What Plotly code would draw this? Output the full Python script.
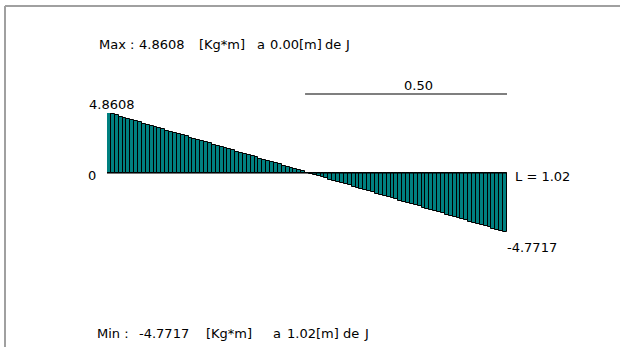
import plotly.graph_objects as go

# Data: bending moment along the beam (0.00 .. 1.02 m)
positions = [round(i * 0.01, 2) for i in range(103)]
moments = [
    4.8608, 4.7664, 4.6719, 4.5775, 4.4831, 4.3886, 4.2942, 4.1998, 4.1053, 4.0109,
    3.9164, 3.8220, 3.7276, 3.6331, 3.5387, 3.4443, 3.3498, 3.2554, 3.1610, 3.0665,
    2.9721, 2.8776, 2.7832, 2.6888, 2.5943, 2.4999, 2.4055, 2.3110, 2.2166, 2.1221,
    2.0277, 1.9333, 1.8388, 1.7444, 1.6500, 1.5555, 1.4611, 1.3667, 1.2722, 1.1778,
    1.0833, 0.9889, 0.8945, 0.8000, 0.7056, 0.6112, 0.5167, 0.4223, 0.3279, 0.2334,
    0.1390, 0.0445, -0.0499, -0.1443, -0.2388, -0.3332, -0.4276, -0.5221, -0.6165, -0.7110,
    -0.8054, -0.8998, -0.9943, -1.0887, -1.1831, -1.2776, -1.3720, -1.4664, -1.5609, -1.6553,
    -1.7497, -1.8442, -1.9386, -2.0331, -2.1275, -2.2219, -2.3164, -2.4108, -2.5052, -2.5997,
    -2.6941, -2.7885, -2.8830, -2.9774, -3.0719, -3.1663, -3.2607, -3.3552, -3.4496, -3.5440,
    -3.6385, -3.7329, -3.8274, -3.9218, -4.0162, -4.1107, -4.2051, -4.2995, -4.3940, -4.4884,
    -4.5828, -4.6773, -4.7717,
]
max_val = 4.8608
min_val = -4.7717
beam_length = 1.02
scale_label = "0.50"
title_black = "Momentos "
title_blue = "[Kg*m], Long [m]"
max_pieces = ["Max :", "4.8608", "[Kg*m]", "a", "0.00[m]", "de", "J"]
min_pieces = ["Min :", "-4.7717", "[Kg*m]", "a", "1.02[m]", "de", "J"]

W, H = 620, 347
L_PX, R_PX = 107, 507
T_PX, B_PX = 113, 232


def px(x):
    return (x - L_PX) / (R_PX - L_PX)


def py(y):
    return (B_PX - y) / (B_PX - T_PX)


FONT = "DejaVu Sans"
FS = 13

fig = go.Figure()
fig.add_trace(go.Bar(
    x=positions, y=moments, width=0.01,
    marker=dict(color="#008080", line=dict(color="#000000", width=1)),
    hoverinfo="skip",
))

shapes = [
    # frame (gray, 3D-like)
    dict(type="line", xref="paper", yref="paper", x0=px(5), x1=px(5), y0=py(6), y1=py(360),
         line=dict(color="#a0a0a0", width=2)),
    dict(type="line", xref="paper", yref="paper", x0=px(5), x1=px(640), y0=py(6), y1=py(6),
         line=dict(color="#a0a0a0", width=2)),
    # baseline
    dict(type="line", xref="x", yref="y", x0=-0.005, x1=beam_length + 0.005, y0=0, y1=0,
         line=dict(color="#000000", width=1)),
    # scale bar
    dict(type="line", xref="x", yref="paper", x0=0.505, x1=beam_length + 0.005,
         y0=py(94), y1=py(94), line=dict(color="#000000", width=1.2)),
]

annotations = [
    dict(xref="paper", yref="paper", x=px(0), y=py(2.5), xanchor="left", yanchor="bottom",
         text=title_black + "<span style='color:#1f5fbf'>" + title_blue + "</span>",
         showarrow=False, font=dict(family=FONT, size=16, color="#222222")),
    dict(xref="paper", yref="paper", x=px(112), y=py(104), xanchor="center", yanchor="middle",
         text=f"{max_val:.4f}", showarrow=False, font=dict(family=FONT, size=FS, color="#000000")),
    dict(xref="paper", yref="paper", x=px(98), y=py(175), xanchor="right", yanchor="middle",
         text="0", showarrow=False, font=dict(family=FONT, size=FS, color="#000000")),
    dict(xref="paper", yref="paper", x=px(513), y=py(176), xanchor="left", yanchor="middle",
         text=f"L = {beam_length:.2f}", showarrow=False, font=dict(family=FONT, size=FS, color="#000000")),
    dict(xref="paper", yref="paper", x=px(505), y=py(247), xanchor="left", yanchor="middle",
         text=f"{min_val:.4f}", showarrow=False, font=dict(family=FONT, size=FS, color="#000000")),
    dict(xref="paper", yref="paper", x=px(418), y=py(85), xanchor="center", yanchor="middle",
         text=scale_label, showarrow=False, font=dict(family=FONT, size=FS, color="#000000")),
]

# Max / Min lines, each word placed where it sits in the reference
max_lefts = [97, 137, 197, 255, 268, 323, 343]
min_lefts = [95, 137, 204, 271, 285, 341, 362]
for pieces, lefts, ypix in ((max_pieces, max_lefts, 44), (min_pieces, min_lefts, 333)):
    for piece, left in zip(pieces, lefts):
        annotations.append(dict(
            xref="paper", yref="paper", x=px(left), y=py(ypix), xanchor="left", yanchor="middle",
            text=piece, showarrow=False, font=dict(family=FONT, size=FS, color="#000000"),
        ))

fig.update_layout(
    width=W, height=H,
    margin=dict(l=L_PX, r=W - R_PX, t=T_PX, b=H - B_PX, pad=0),
    paper_bgcolor="#ffffff", plot_bgcolor="#ffffff",
    showlegend=False, bargap=0,
    xaxis=dict(range=[-0.005, beam_length + 0.005], visible=False, fixedrange=True),
    yaxis=dict(range=[min_val, max_val], visible=False, fixedrange=True),
    shapes=shapes, annotations=annotations,
)

fig.write_html(
    "out.html",
    config={"displayModeBar": False},
    post_script="document.body.style.margin='0';document.body.style.overflow='hidden';",
)
